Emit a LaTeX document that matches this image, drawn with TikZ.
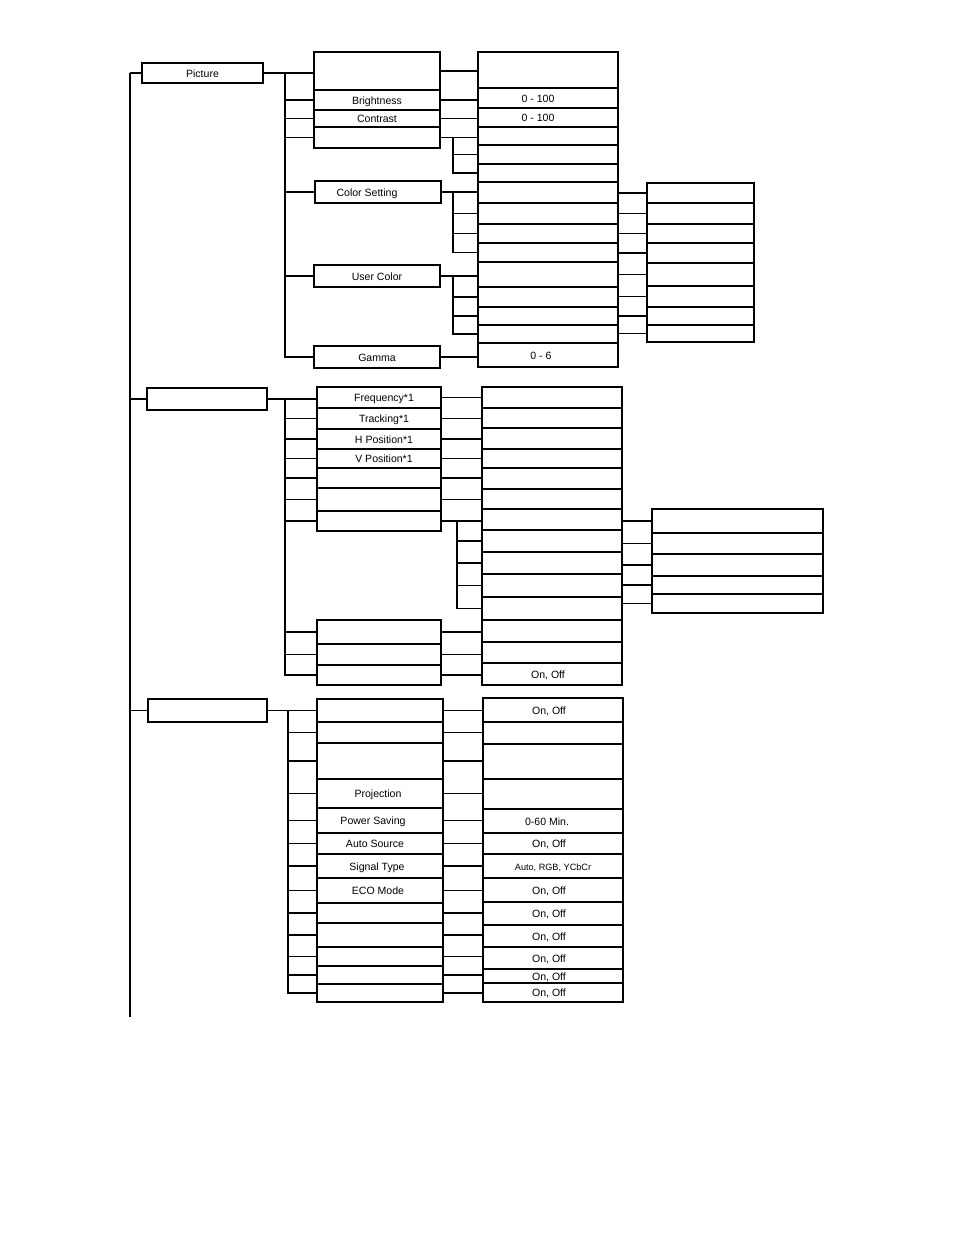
\documentclass[tikz,border=0pt]{standalone}
\usepackage{fontspec}
\setmainfont{Liberation Sans}
\usetikzlibrary{fit}

\begin{document}
\begin{tikzpicture}[
    x=0.2mm, y=-0.2mm,
    heavy/.style={line width=1.1pt},
    light/.style={line width=0.6pt},
    cell/.style={inner sep=0pt, outer sep=0pt},
    box/.style={draw, heavy, inner sep=0pt, outer sep=0pt},
    lbl/.style={inner sep=0pt, text height=0.7em, text depth=0pt, yshift=1pt, font=\fontsize{6}{7}\selectfont}
]
\useasboundingbox (0,0) rectangle (954,1240);
\coordinate (spine) at (130,1017);

% ---------------- Picture menu ----------------
\node[box, light, fit={(142,63) (263,83)}, label={[lbl]center:Picture}] (pic) {};

\foreach \n/\ya/\yb/\txt/\dx/\ln in {
    pa/52/90//0/heavy, pbri/90/110/Brightness/0/heavy,
    pcon/110/127/Contrast/0/heavy, pd/127/148//0/heavy}{
  \node[cell, fit={(314,\ya) (440,\yb)}, label={[lbl, xshift=\dx*0.2mm]center:\txt}] (\n) {};
  \draw[\ln] (\n.south west) -- (\n.south east);
}
\draw[heavy] (pa.north west) rectangle (pd.south east);

\node[box, fit={(315,181) (441,203)}, label={[lbl, xshift=-11*0.2mm]center:Color Setting}] (pcs) {};
\node[box, fit={(314,265) (440,287)}, label={[lbl]center:User Color}] (puc) {};
\node[box, fit={(314,346) (440,368)}, label={[lbl]center:Gamma}] (pgam) {};

\foreach \n/\ya/\yb/\txt/\dx/\ln in {
    q1/52/88//0/light, q2/88/108/0 - 100/-10/heavy, q3/108/127/0 - 100/-10/heavy,
    q4/127/145//0/heavy, q5/145/164//0/heavy, q6/164/182//0/heavy,
    q7/182/203//0/heavy, q8/203/224//0/heavy, q9/224/243//0/heavy,
    q10/243/262//0/heavy, q11/262/287//0/light, q12/287/307//0/light,
    q13/307/325//0/light, q14/325/343//0/heavy, q15/343/367/0 - 6/-7/heavy}{
  \node[cell, fit={(478,\ya) (618,\yb)}, label={[lbl, xshift=\dx*0.2mm]center:\txt}] (\n) {};
  \draw[\ln] (\n.south west) -- (\n.south east);
}
\draw[heavy] (q1.north west) rectangle (q15.south east);

\foreach \n/\ya/\yb/\ln in {
    r1/183/203/heavy, r2/203/224/heavy, r3/224/243/heavy, r4/243/263/heavy,
    r5/263/286/heavy, r6/286/307/light, r7/307/325/heavy, r8/325/342/heavy}{
  \node[cell, fit={(647,\ya) (754,\yb)}] (\n) {};
  \draw[\ln] (\n.south west) -- (\n.south east);
}
\draw[heavy] (r1.north west) rectangle (r8.south east);

% spine and first bus
\draw[heavy] (pic.west -| spine) -- (spine);
\draw[light] (pic.west) -- (pic.west -| spine);
\coordinate (b1) at (285,73);
\draw[light] (pic.east) -- (pic.east -| pa.west);
\draw[heavy] (b1) |- (pgam.west);
\foreach \n/\ln in {pbri/light, pcon/heavy, pd/heavy, pcs/light, puc/light}
  \draw[\ln] (b1 |- \n.west) -- (\n.west);

\foreach \a/\b/\ln in {pa/q1/heavy, pbri/q2/heavy, pcon/q3/heavy, pd/q4/heavy,
    pcs/q7/heavy, puc/q11/light, pgam/q15/heavy}
  \draw[\ln] (\a.east) -- (\a.east -| \b.west);

\coordinate (sb1) at (453,0);
\draw[heavy] (sb1 |- pd.east) |- (q6.west);
\draw[heavy] (sb1 |- pcs.east) |- (q10.west);
\draw[heavy] (sb1 |- puc.east) |- (q14.west);
\foreach \n/\ln in {q5/light, q8/heavy, q9/light, q12/heavy, q13/heavy}
  \draw[\ln] (sb1 |- \n.west) -- (\n.west);

\foreach \n/\ln in {r1/heavy, r2/heavy, r3/heavy, r4/light, r5/light, r6/light, r7/heavy, r8/heavy}
  \draw[\ln] (q1.east |- \n.west) -- (\n.west);

% ---------------- second menu ----------------
\node[box, fit={(147,388) (267,410)}] (sec2) {};

\foreach \n/\ya/\yb/\txt/\ln in {
    s1/387/408/Frequency*1/heavy, s2/408/429/Tracking*1/heavy,
    s3/429/449/H Position*1/heavy, s4/449/468/V Position*1/heavy,
    s5/468/488//light, s6/488/511//heavy, s7/511/531//heavy}{
  \node[cell, fit={(317,\ya) (441,\yb)}, label={[lbl, xshift=5*0.2mm]center:\txt}] (\n) {};
  \draw[\ln] (\n.south west) -- (\n.south east);
}
\draw[heavy] (s1.north west) rectangle (s7.south east);

\foreach \n/\ya/\yb/\ln in {s8/620/644/heavy, s9/644/665/light, s10/665/685/heavy}{
  \node[cell, fit={(317,\ya) (441,\yb)}] (\n) {};
  \draw[\ln] (\n.south west) -- (\n.south east);
}
\draw[heavy] (s8.north west) rectangle (s10.south east);

\foreach \n/\ya/\yb/\txt/\ln in {
    t1/387/408//heavy, t2/408/428//heavy, t3/428/449//heavy, t4/449/468//heavy,
    t5/468/489//light, t6/489/509//heavy, t7/509/530//light, t8/530/552//heavy,
    t9/552/574//heavy, t10/574/597//heavy, t11/597/620//heavy, t12/620/642//light,
    t13/642/663//heavy, t14/663/685/{On, Off}/heavy}{
  \node[cell, fit={(482,\ya) (622,\yb)}, label={[lbl, xshift=-4*0.2mm]center:\txt}] (\n) {};
  \draw[\ln] (\n.south west) -- (\n.south east);
}
\draw[heavy] (t1.north west) rectangle (t14.south east);

\foreach \n/\ya/\yb/\ln in {
    u1/509/533/heavy, u2/533/554/heavy, u3/554/576/heavy, u4/576/594/heavy, u5/594/613/heavy}{
  \node[cell, fit={(652,\ya) (823,\yb)}] (\n) {};
  \draw[\ln] (\n.south west) -- (\n.south east);
}
\draw[heavy] (u1.north west) rectangle (u5.south east);

\draw[heavy] (sec2.west -| spine) -- (sec2.west);
\draw[heavy] (sec2.east) -- (sec2.east -| s1.west);
\coordinate (b3) at (285,0);
\draw[heavy] (b3 |- sec2.east) |- (s10.west);
\foreach \n/\ln in {s2/heavy, s3/heavy, s4/heavy, s5/light, s6/light, s7/heavy, s8/heavy, s9/heavy}
  \draw[\ln] (b3 |- \n.west) -- (\n.west);

\foreach \a/\b/\ln in {s1/t1/heavy, s2/t2/light, s3/t3/heavy, s4/t4/heavy, s5/t5/light,
    s6/t6/heavy, s7/t7/heavy, s8/t12/light, s9/t13/heavy, s10/t14/heavy}
  \draw[\ln] (\a.east) -- (\a.east -| \b.west);

\coordinate (sb2) at (457,0);
\draw[heavy] (sb2 |- s7.east) |- (t11.west);
\foreach \n/\ln in {t8/heavy, t9/light, t10/heavy}
  \draw[\ln] (sb2 |- \n.west) -- (\n.west);

\foreach \n/\ln in {u1/light, u2/heavy, u3/light, u4/heavy, u5/heavy}
  \draw[\ln] (t1.east |- \n.west) -- (\n.west);

% ---------------- third menu ----------------
\node[box, fit={(148,699) (267,722)}] (sec3) {};

\foreach \n/\ya/\yb/\txt/\dx/\ln in {
    v1/699/722//0/light, v2/722/743//0/heavy, v3/743/779//0/heavy,
    v4/779/808/Projection/-2/heavy, v5/808/833/Power Saving/-7/heavy,
    v6/833/854/Auto Source/-5/heavy, v7/854/878/Signal Type/-3/heavy,
    v8/878/903/ECO Mode/-2/heavy, v9/903/923//0/heavy, v10/923/947//0/heavy,
    v11/947/966//0/heavy, v12/966/984//0/heavy, v13/984/1002//0/heavy}{
  \node[cell, fit={(317,\ya) (443,\yb)}, label={[lbl, xshift=\dx*0.2mm]center:\txt}] (\n) {};
  \draw[\ln] (\n.south west) -- (\n.south east);
}
\draw[heavy] (v1.north west) rectangle (v13.south east);

\foreach \n/\ya/\yb/\txt/\dx/\ln in {
    w1/698/722/{On, Off}/-4/heavy, w2/722/744//0/heavy, w3/744/779//0/light,
    w4/779/809//0/heavy, w5/809/833/0-60 Min./-6/heavy, w6/833/854/{On, Off}/-4/light,
    w7/854/878/{\fontsize{5.2}{6}\selectfont Auto, RGB, YCbCr}/0/heavy,
    w8/878/902/{On, Off}/-4/light, w9/902/925/{On, Off}/-4/heavy,
    w10/925/947/{On, Off}/-4/heavy, w11/947/969/{On, Off}/-4/heavy,
    w12/969/983/{On, Off}/-4/heavy, w13/983/1002/{On, Off}/-4/heavy}{
  \node[cell, fit={(483,\ya) (623,\yb)}, label={[lbl, xshift=\dx*0.2mm]center:\txt}] (\n) {};
  \draw[\ln] (\n.south west) -- (\n.south east);
}
\draw[heavy] (w1.north west) rectangle (w13.south east);

\draw[light] (sec3.west -| spine) -- (sec3.west);
\draw[light] (sec3.east) -- (sec3.east -| v1.west);
\coordinate (b4) at (288,0);
\draw[heavy] (b4 |- sec3.east) |- (v13.west);
\foreach \n/\ln in {v2/heavy, v3/heavy, v4/light, v5/heavy, v6/heavy, v7/light,
    v8/heavy, v9/light, v10/heavy, v11/light, v12/heavy}
  \draw[\ln] (b4 |- \n.west) -- (\n.west);

\foreach \a/\b/\ln in {v1/w1/heavy, v2/w2/heavy, v3/w3/heavy, v4/w4/heavy, v5/w5/heavy,
    v6/w6/heavy, v7/w7/light, v8/w8/light, v9/w9/light, v10/w10/heavy,
    v11/w11/heavy, v12/w12/heavy, v13/w13/light}
  \draw[\ln] (\a.east) -- (\a.east -| \b.west);
\end{tikzpicture}
\end{document}
